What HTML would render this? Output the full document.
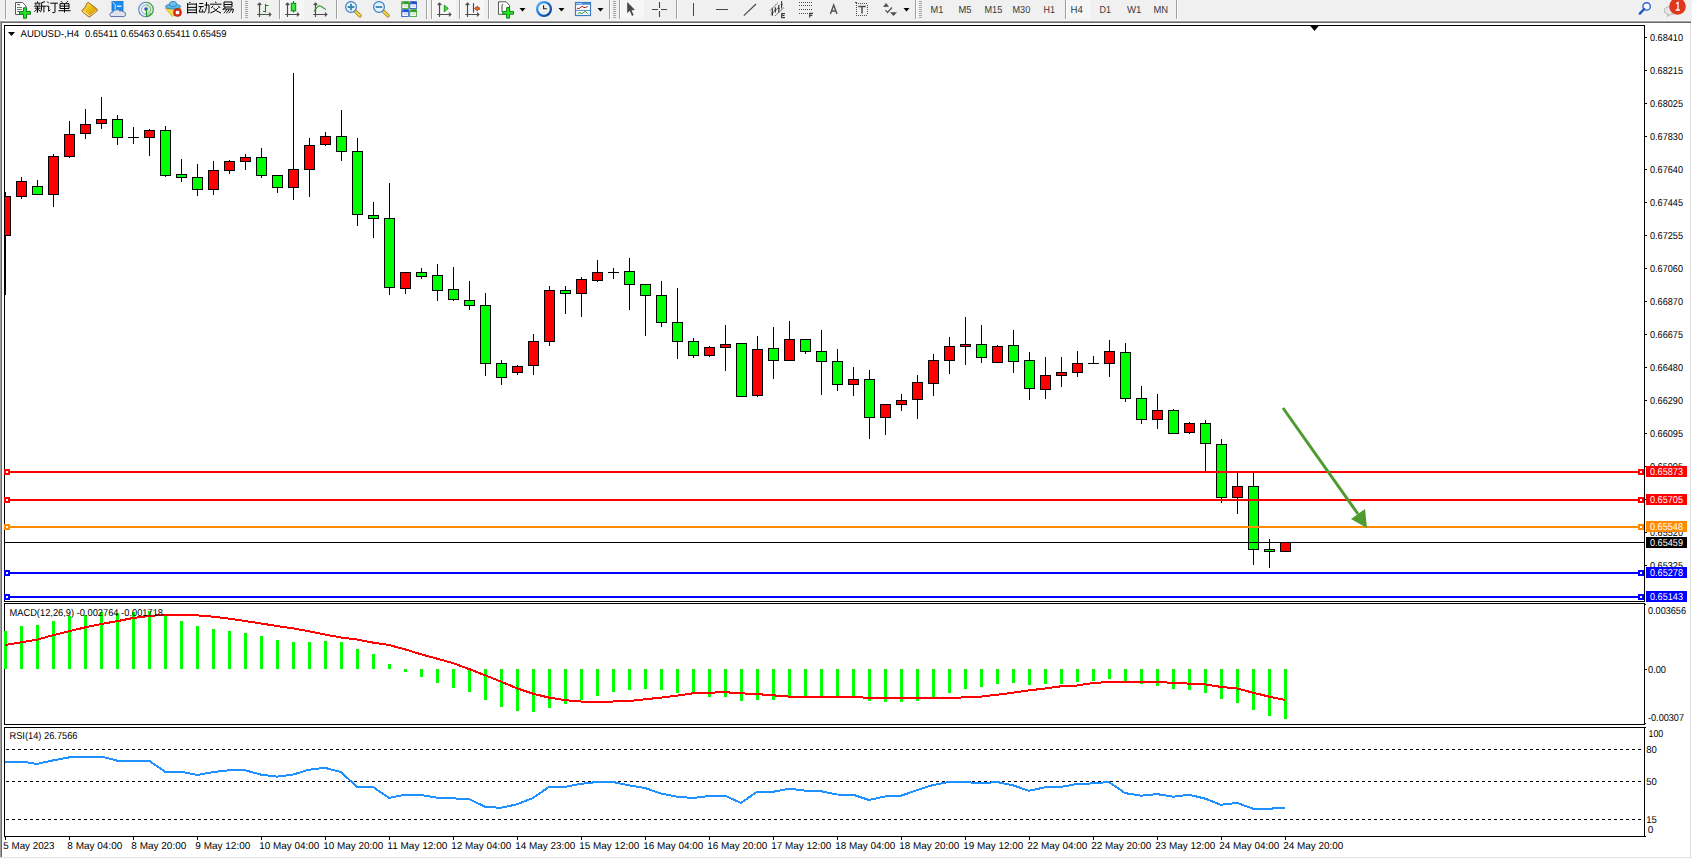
<!DOCTYPE html>
<html><head><meta charset="utf-8">
<style>
html,body{margin:0;padding:0;background:#fff;}
body{width:1692px;height:859px;overflow:hidden;position:relative;font-family:"Liberation Sans",sans-serif;}
svg{position:absolute;left:0;top:0;display:block;}
.t{font-family:"Liberation Sans",sans-serif;font-size:10px;fill:#000;text-rendering:geometricPrecision;}
</style></head><body>
<svg width="1692" height="859" viewBox="0 0 1692 859" shape-rendering="crispEdges">

<rect x="0" y="0" width="1692" height="859" fill="#ffffff"/>
<rect x="0" y="0" width="1692" height="21" fill="#f0f0f0"/>
<rect x="0" y="20" width="1692" height="1" fill="#f7f7f7"/>
<rect x="0" y="21" width="1691" height="1" fill="#a0a0a0"/>
<rect x="0" y="22" width="1691" height="1" fill="#696969"/>
<rect x="5" y="0" width="1" height="19" fill="#a0a0a0"/>
<rect x="6" y="0" width="1" height="19" fill="#ffffff"/>
<g shape-rendering="geometricPrecision">
<path d="M15.5,2.5 h7 l3.5,3.5 v8.5 h-10.5 z" fill="#fff" stroke="#5a5a5a" stroke-width="1"/>
<rect x="17" y="4" width="3" height="1.2" fill="#777"/>
<rect x="17" y="7" width="5" height="0.9" fill="#666"/><rect x="17" y="9" width="5" height="0.9" fill="#666"/><rect x="17" y="11" width="3" height="0.9" fill="#666"/>
<path d="M23.5,7.8 h3 v3.7 h4 v2.7 h-4 v4 h-3 v-4 h-4 v-2.7 h4 z" fill="#22e622" stroke="#14801a" stroke-width="1"/>
</g>
<path transform="translate(34,0.6)" d="M3.5,0.8 v1.4 M0.6,2.6 h6 M1.6,3.3 l0.6,1.6 M5.4,3.3 l-0.6,1.6 M0.2,5.6 h6.6 M0.8,7.6 h5.6 M3.5,5.6 v6.2 l-0.8,-0.3 M3,8.6 l-2.6,2.6 M4,8.8 l2.2,1.8 M11,1 l-3.5,1.2 M7.6,2.2 v4 q0,3.8 -1.1,5.4 M7.6,5.6 h4.6 M9.9,5.6 v6.2" fill="none" stroke="#000" stroke-width="1" shape-rendering="geometricPrecision"/>
<path transform="translate(46.5,0.6)" d="M0.8,1 l1.4,1.6 M0,5.6 h2.2 v5 l1.6,-1.4 M3.8,2.6 h7.6 M8.5,2.6 v8.8 q0,0.6 -0.8,0.6 h-1.8" fill="none" stroke="#000" stroke-width="1" shape-rendering="geometricPrecision"/>
<path transform="translate(58.5,0.4)" d="M2.6,0.8 l1.3,1.6 M9.2,0.8 l-1.3,1.6 M1.5,3.3 h9 v4.8 h-9 z M1.5,5.7 h9 M6,3.3 v8.8 M0,10.3 h12" fill="none" stroke="#000" stroke-width="1" shape-rendering="geometricPrecision"/>
<defs><linearGradient id="bk" x1="0" y1="0" x2="1" y2="1"><stop offset="0" stop-color="#ffe866"/><stop offset="0.55" stop-color="#e8b410"/><stop offset="1" stop-color="#c98a06"/></linearGradient></defs>
<g shape-rendering="geometricPrecision"><path d="M88.4,2.4 L96.9,9.1 Q97.6,9.9 97.2,10.8 L90.2,16.6 Q89.2,17.2 88.4,16.6 L82.4,11.8 Q81.7,11 82.3,10.2 Q85.4,7.4 86.4,4.6 Q87.2,2.4 88.4,2.4 z" fill="url(#bk)" stroke="#9a6410" stroke-width="1"/><path d="M83.2,11.2 L89.3,15.8" fill="none" stroke="#f6e2a0" stroke-width="1.1"/><path d="M90.3,15.6 L96.6,10.4" fill="none" stroke="#e8d8a8" stroke-width="1"/></g>
<g shape-rendering="geometricPrecision"><rect x="112" y="1.5" width="11" height="9.5" fill="#1a8cf0" stroke="#1673c8" stroke-width="0.8"/><path d="M112.5,2 l2.8,2.6 v7" stroke="#e6f3ff" stroke-width="0.9" fill="none"/><rect x="117" y="5.5" width="4.5" height="1.4" fill="#dff0ff"/><path d="M111,16.5 Q109.5,16 110,13.8 Q110.6,12 112.8,12.2 Q113.4,9.6 116.4,9.8 Q118.6,9 119.8,11 Q121.5,10.2 123.3,11.6 Q125.8,12.2 125.6,14.4 Q125.6,16.4 123.6,16.6 z" fill="#dde3ee" stroke="#4a64a0" stroke-width="0.9"/></g>
<g shape-rendering="geometricPrecision"><path d="M146,9.5 L146,16.8 A7.3,7.3 0 0 0 153.3,9.5 A7.3,7.3 0 0 0 146,2.2 z" fill="#d6ecd2" opacity="0.9"/><path d="M146,2.2 A7.3,7.3 0 0 0 146,16.8" fill="none" stroke="#3f6fd6" stroke-width="1.1" opacity="0.85"/><path d="M146,2.2 A7.3,7.3 0 0 1 146,16.8" fill="none" stroke="#3f8f4a" stroke-width="1.1"/><path d="M146,4.9 A4.6,4.6 0 0 0 146,14.1" fill="none" stroke="#6f93e0" stroke-width="1" opacity="0.8"/><path d="M146,4.9 A4.6,4.6 0 0 1 146,14.1" fill="none" stroke="#6fae72" stroke-width="1"/><circle cx="146" cy="9" r="1.8" fill="#2a56c6"/><path d="M146.5,9.5 V16.5 Q149.5,16.3 151,13.5" fill="none" stroke="#22a022" stroke-width="1.2"/></g>
<g shape-rendering="geometricPrecision"><path d="M165.5,8.5 L181,8.5 L172.5,16.6 z" fill="#f3d84a" stroke="#d0a020" stroke-width="0.8"/><ellipse cx="173" cy="6.6" rx="7.6" ry="2.4" fill="#5cb4ea" stroke="#2f86b8" stroke-width="0.9"/><ellipse cx="173" cy="4" rx="3.6" ry="2.6" fill="#6cc0f0" stroke="#2f86b8" stroke-width="0.9"/><circle cx="177.5" cy="12.5" r="4" fill="#e02a10" stroke="#a01a08" stroke-width="0.6"/><rect x="175.8" y="10.8" width="3.4" height="3.4" fill="#fff"/></g>
<path transform="translate(187,1)" d="M3,0.8 l-0.4,1.2 M0.6,2.2 v10.4 M9.4,2.2 v10.4 M0.6,3.1 h8.8 M0.6,6.4 h8.8 M0.6,9 h8.8 M0.6,11.6 h8.8" fill="none" stroke="#000" stroke-width="1" shape-rendering="geometricPrecision"/>
<path transform="translate(198.5,1)" d="M0.8,2.5 h4 M0,5.6 h5.2 M2.6,5.6 l-2,5.4 h4 M3.8,8.6 l0.8,2.6 M6,4 h4.5 v7.2 q0,1 -1.2,0.8 M8,1 v4.5 q-0.4,4.6 -2.6,6.6" fill="none" stroke="#000" stroke-width="1" shape-rendering="geometricPrecision"/>
<path transform="translate(210,1)" d="M5.5,0.6 l0.6,1.4 M0,3.2 h11.5 M3.2,4.8 l-2,2.2 M8.2,4.8 l2,2.2 M3.2,6.6 q2.2,3.6 7.8,5.4 M8.4,6.6 q-2.2,3.6 -8,5.4" fill="none" stroke="#000" stroke-width="1" shape-rendering="geometricPrecision"/>
<path transform="translate(222,1)" d="M2,1 h8 v5 h-8 z M2,3.5 h8 M0.8,8 h10.4 q0,3.6 -1,4 M3.2,6.2 l-2.4,2.8 M4.8,8.2 q-1,2.6 -3,3.8 M7.2,8.2 q-1,2.6 -3,3.8 M9.6,8.2 q-1,2.6 -3,3.8" fill="none" stroke="#000" stroke-width="1" shape-rendering="geometricPrecision"/>
<rect x="241" y="0" width="1" height="19" fill="#a0a0a0"/>
<rect x="242" y="0" width="1" height="19" fill="#ffffff"/>
<rect x="245" y="1" width="3" height="1" fill="#a8a8a8"/>
<rect x="245" y="3" width="3" height="1" fill="#a8a8a8"/>
<rect x="245" y="5" width="3" height="1" fill="#a8a8a8"/>
<rect x="245" y="7" width="3" height="1" fill="#a8a8a8"/>
<rect x="245" y="9" width="3" height="1" fill="#a8a8a8"/>
<rect x="245" y="11" width="3" height="1" fill="#a8a8a8"/>
<rect x="245" y="13" width="3" height="1" fill="#a8a8a8"/>
<rect x="245" y="15" width="3" height="1" fill="#a8a8a8"/>
<rect x="245" y="17" width="3" height="1" fill="#a8a8a8"/>
<g shape-rendering="geometricPrecision"><path d="M259.5,3.2 V17 M257.7,5 L259.5,3.2 L261.3,5 M257.2,14.5 H270.8 M269.0,12.7 L270.8,14.5 L269.0,16.3" fill="none" stroke="#4d4d4d" stroke-width="1.2"/></g>
<path shape-rendering="geometricPrecision" d="M265.5,4 V12.5 M265.5,5.5 H268.5 M263,11.5 H265.5" fill="none" stroke="#0e8a0e" stroke-width="1.1"/>
<rect x="279" y="0" width="1" height="19" fill="#a0a0a0"/>
<rect x="280" y="0" width="1" height="19" fill="#ffffff"/>
<rect x="281" y="0" width="23" height="19" fill="#f6f6f6"/>
<g shape-rendering="geometricPrecision"><path d="M287.5,3.2 V17 M285.7,5 L287.5,3.2 L289.3,5 M285.2,14.5 H298.8 M297.0,12.7 L298.8,14.5 L297.0,16.3" fill="none" stroke="#4d4d4d" stroke-width="1.2"/></g>
<g shape-rendering="geometricPrecision"><path d="M293.5,1 V12.5" stroke="#0a8a0a" stroke-width="1.1"/><rect x="291.3" y="3.3" width="4.4" height="7.6" fill="#3de63d" stroke="#0a8a0a" stroke-width="1"/></g>
<g shape-rendering="geometricPrecision"><path d="M315.5,3.2 V17 M313.7,5 L315.5,3.2 L317.3,5 M313.2,14.5 H326.8 M325.0,12.7 L326.8,14.5 L325.0,16.3" fill="none" stroke="#4d4d4d" stroke-width="1.2"/></g>
<path shape-rendering="geometricPrecision" d="M314,11.5 Q318,5.2 320.4,6 Q322,6.6 325.8,9.6" fill="none" stroke="#2a9a2a" stroke-width="1.1"/>
<rect x="336" y="0" width="1" height="19" fill="#a0a0a0"/>
<rect x="337" y="0" width="1" height="19" fill="#ffffff"/>
<g shape-rendering="geometricPrecision"><path d="M354.8,10.6 L360,15.8" stroke="#9a7010" stroke-width="3.4" stroke-linecap="round"/><path d="M354.8,10.6 L360,15.8" stroke="#f0d848" stroke-width="2" stroke-linecap="round"/><circle cx="351" cy="7" r="5.4" fill="#e2f3fd" stroke="#3a7cc0" stroke-width="1.2"/><path d="M347.7,7 H354.3 M351,3.7 V10.3" stroke="#3d86b0" stroke-width="1.8"/></g>
<g shape-rendering="geometricPrecision"><path d="M382.8,10.6 L388,15.8" stroke="#9a7010" stroke-width="3.4" stroke-linecap="round"/><path d="M382.8,10.6 L388,15.8" stroke="#f0d848" stroke-width="2" stroke-linecap="round"/><circle cx="379" cy="7" r="5.4" fill="#e2f3fd" stroke="#3a7cc0" stroke-width="1.2"/><path d="M375.7,7 H382.3" stroke="#3d86b0" stroke-width="1.8"/></g>
<g shape-rendering="geometricPrecision">
<rect x="401.3" y="1.3" width="7.6" height="7.6" rx="0.6" fill="#2a9a1e"/><path d="M402.6,8.2 V4.4 H407.8 V8.2" fill="#fff" stroke="#fff" stroke-width="0.6"/><rect x="403.6" y="5.6" width="3.4" height="0.9" fill="#2a9a1e" opacity="0.45"/><rect x="402.4" y="2.2" width="1" height="1" fill="#fff" opacity="0.7"/>
<rect x="409.3" y="1.3" width="7.6" height="7.6" rx="0.6" fill="#1a48c8"/><path d="M410.6,8.2 V4.4 H415.8 V8.2" fill="#fff" stroke="#fff" stroke-width="0.6"/><rect x="411.6" y="5.6" width="3.4" height="0.9" fill="#1a48c8" opacity="0.45"/><rect x="410.4" y="2.2" width="1" height="1" fill="#fff" opacity="0.7"/>
<rect x="401.3" y="9.3" width="7.6" height="7.6" rx="0.6" fill="#1a48c8"/><path d="M402.6,16.2 V12.4 H407.8 V16.2" fill="#fff" stroke="#fff" stroke-width="0.6"/><rect x="403.6" y="13.6" width="3.4" height="0.9" fill="#1a48c8" opacity="0.45"/><rect x="402.4" y="10.2" width="1" height="1" fill="#fff" opacity="0.7"/>
<rect x="409.3" y="9.3" width="7.6" height="7.6" rx="0.6" fill="#2a9a1e"/><path d="M410.6,16.2 V12.4 H415.8 V16.2" fill="#fff" stroke="#fff" stroke-width="0.6"/><rect x="411.6" y="13.6" width="3.4" height="0.9" fill="#2a9a1e" opacity="0.45"/><rect x="410.4" y="10.2" width="1" height="1" fill="#fff" opacity="0.7"/>
</g>
<rect x="426" y="0" width="1" height="19" fill="#a0a0a0"/>
<rect x="427" y="0" width="1" height="19" fill="#ffffff"/>
<rect x="431" y="0" width="1" height="19" fill="#a0a0a0"/>
<rect x="432" y="0" width="1" height="19" fill="#ffffff"/>
<rect x="433" y="0" width="23" height="19" fill="#f6f6f6"/>
<g shape-rendering="geometricPrecision"><path d="M439.5,3.2 V17 M437.7,5 L439.5,3.2 L441.3,5 M437.2,14.5 H450.8 M449.0,12.7 L450.8,14.5 L449.0,16.3" fill="none" stroke="#4d4d4d" stroke-width="1.2"/></g>
<polygon shape-rendering="geometricPrecision" points="444.3,5.2 448.3,8.5 444.3,11.8" fill="#44dd44" stroke="#0c8a0c" stroke-width="0.9"/>
<rect x="459" y="0" width="1" height="19" fill="#a0a0a0"/>
<rect x="460" y="0" width="1" height="19" fill="#ffffff"/>
<rect x="461" y="0" width="23" height="19" fill="#f6f6f6"/>
<g shape-rendering="geometricPrecision"><path d="M467.5,3.2 V17 M465.7,5 L467.5,3.2 L469.3,5 M465.2,14.5 H478.8 M477.0,12.7 L478.8,14.5 L477.0,16.3" fill="none" stroke="#4d4d4d" stroke-width="1.2"/></g>
<g shape-rendering="geometricPrecision"><path d="M473.5,3.2 V12.6" stroke="#10608a" stroke-width="1.2"/><path d="M474.4,8.5 L477.5,6 V7.6 H479.6 V9.4 H477.5 V11 z" fill="#ff6a10" stroke="#8a2a08" stroke-width="0.6"/></g>
<rect x="488" y="0" width="1" height="19" fill="#a0a0a0"/>
<rect x="489" y="0" width="1" height="19" fill="#ffffff"/>
<g shape-rendering="geometricPrecision"><path d="M498.5,1.8 h7.5 l3.5,3.5 v9 h-11 z" fill="#fff" stroke="#5a5a5a" stroke-width="1"/><path d="M503.2,4.2 q-1.2,0 -1.2,1.6 v6.2" fill="none" stroke="#333" stroke-width="0.9"/><path d="M506.6,7.6 h3 v3.8 h3.9 v2.8 h-3.9 v3.9 h-3 v-3.9 h-3.9 v-2.8 h3.9 z" fill="#22e622" stroke="#14801a" stroke-width="1"/></g>
<polygon shape-rendering="geometricPrecision" points="519.5,8 525.5,8 522.5,11.5" fill="#000"/>
<defs><linearGradient id="ck" x1="0" y1="0" x2="1" y2="1"><stop offset="0" stop-color="#5ab8ff"/><stop offset="0.5" stop-color="#1e6fd0"/><stop offset="1" stop-color="#073a88"/></linearGradient></defs>
<g shape-rendering="geometricPrecision"><circle cx="544" cy="9" r="6.9" fill="#f4f4f4" stroke="url(#ck)" stroke-width="2.3"/><path d="M543.6,5.2 V8.8 H546.8" fill="none" stroke="#1a1a1a" stroke-width="1.1"/><circle cx="540.2" cy="9" r="0.45" fill="#999"/><circle cx="547.8" cy="9" r="0.45" fill="#999"/><circle cx="544" cy="12.6" r="0.5" fill="#6aa0e0"/><circle cx="541.4" cy="11.8" r="0.4" fill="#aaa"/><circle cx="546.6" cy="11.8" r="0.4" fill="#aaa"/><circle cx="546.6" cy="6.2" r="0.4" fill="#aaa"/><circle cx="541.4" cy="6.2" r="0.4" fill="#aaa"/></g>
<polygon shape-rendering="geometricPrecision" points="558.5,8 564.5,8 561.5,11.5" fill="#000"/>
<g shape-rendering="geometricPrecision"><rect x="575.5" y="2.5" width="15" height="13" fill="#fff" stroke="#3a7cc0" stroke-width="1.2"/><rect x="575.5" y="2.5" width="15" height="2.2" fill="#3f86cc"/><rect x="576.2" y="3" width="6" height="0.8" fill="#bfe0ff"/><path d="M575.5,10.4 H590.5" stroke="#3a7cc0" stroke-width="0.9"/><path d="M577.2,8.4 L579.2,8.4 L580.8,7.2 L582.3,6.3 L584,7.5 L585.5,7.5 L587.8,6.5" fill="none" stroke="#a01a10" stroke-width="1"/><path d="M578,13.5 L580,12.7 L581.6,13.5 L583.4,12.6 L585.4,11.3 L587.6,13.6" fill="none" stroke="#18901a" stroke-width="1"/></g>
<polygon shape-rendering="geometricPrecision" points="597.5,8 603.5,8 600.5,11.5" fill="#000"/>
<rect x="609" y="0" width="1" height="19" fill="#a0a0a0"/>
<rect x="610" y="0" width="1" height="19" fill="#ffffff"/>
<rect x="613" y="1" width="3" height="1" fill="#a8a8a8"/>
<rect x="613" y="3" width="3" height="1" fill="#a8a8a8"/>
<rect x="613" y="5" width="3" height="1" fill="#a8a8a8"/>
<rect x="613" y="7" width="3" height="1" fill="#a8a8a8"/>
<rect x="613" y="9" width="3" height="1" fill="#a8a8a8"/>
<rect x="613" y="11" width="3" height="1" fill="#a8a8a8"/>
<rect x="613" y="13" width="3" height="1" fill="#a8a8a8"/>
<rect x="613" y="15" width="3" height="1" fill="#a8a8a8"/>
<rect x="613" y="17" width="3" height="1" fill="#a8a8a8"/>
<rect x="619" y="0" width="1" height="19" fill="#a0a0a0"/>
<rect x="620" y="0" width="1" height="19" fill="#ffffff"/>
<rect x="621" y="0" width="23" height="19" fill="#f6f6f6"/>
<polygon shape-rendering="geometricPrecision" points="627.2,2 627.2,13.2 629.8,10.8 632,15.9 633.6,15.1 631.5,10.2 635,10" fill="#474747"/>
<path shape-rendering="geometricPrecision" d="M652,9.5 H658 M661,9.5 H667 M659.5,2 V8 M659.5,11 V17" stroke="#474747" stroke-width="1.1"/>
<rect x="676" y="0" width="1" height="19" fill="#a0a0a0"/>
<rect x="677" y="0" width="1" height="19" fill="#ffffff"/>
<rect x="693" y="3" width="1.2" height="13" fill="#474747"/>
<rect x="716" y="8.6" width="12" height="1.2" fill="#474747"/>
<path shape-rendering="geometricPrecision" d="M743.8,15.6 L756,4" stroke="#474747" stroke-width="1.1"/>
<g shape-rendering="geometricPrecision"><path d="M770,10.6 L777.8,2.8 M770.8,14.6 L779.5,6.5 M775.2,15.8 L784,7.6" fill="none" stroke="#505050" stroke-width="1" stroke-dasharray="1.5,0.5"/><path d="M772.4,8.2 V15.8 M775.4,7.2 V12.6 M778.8,5 V12.6 M781.6,1.2 V8.4" fill="none" stroke="#3e3e3e" stroke-width="1.2"/><path d="M771.3,12.5 h2.2 M774.3,10 h2.2 M777.7,8.6 h2.2 M780.5,4.6 h2.2" fill="none" stroke="#3e3e3e" stroke-width="0.8"/><path d="M785,13.6 h-3.3 v4 h3.3 M781.7,15.5 h2.8" fill="none" stroke="#3a3a3a" stroke-width="1.2"/></g>
<rect x="799" y="2" width="1" height="1" fill="#4a4a4a"/>
<rect x="801" y="2" width="1" height="1" fill="#4a4a4a"/>
<rect x="803" y="2" width="1" height="1" fill="#4a4a4a"/>
<rect x="805" y="2" width="1" height="1" fill="#4a4a4a"/>
<rect x="807" y="2" width="1" height="1" fill="#4a4a4a"/>
<rect x="809" y="2" width="1" height="1" fill="#4a4a4a"/>
<rect x="811" y="2" width="1" height="1" fill="#4a4a4a"/>
<rect x="799" y="5" width="1" height="1" fill="#4a4a4a"/>
<rect x="801" y="5" width="1" height="1" fill="#4a4a4a"/>
<rect x="803" y="5" width="1" height="1" fill="#4a4a4a"/>
<rect x="805" y="5" width="1" height="1" fill="#4a4a4a"/>
<rect x="807" y="5" width="1" height="1" fill="#4a4a4a"/>
<rect x="809" y="5" width="1" height="1" fill="#4a4a4a"/>
<rect x="811" y="5" width="1" height="1" fill="#4a4a4a"/>
<rect x="799" y="9" width="1" height="1" fill="#4a4a4a"/>
<rect x="801" y="9" width="1" height="1" fill="#4a4a4a"/>
<rect x="803" y="9" width="1" height="1" fill="#4a4a4a"/>
<rect x="805" y="9" width="1" height="1" fill="#4a4a4a"/>
<rect x="807" y="9" width="1" height="1" fill="#4a4a4a"/>
<rect x="809" y="9" width="1" height="1" fill="#4a4a4a"/>
<rect x="811" y="9" width="1" height="1" fill="#4a4a4a"/>
<rect x="799" y="13" width="1" height="1" fill="#4a4a4a"/>
<rect x="801" y="13" width="1" height="1" fill="#4a4a4a"/>
<rect x="803" y="13" width="1" height="1" fill="#4a4a4a"/>
<rect x="805" y="13" width="1" height="1" fill="#4a4a4a"/>
<rect x="807" y="13" width="1" height="1" fill="#4a4a4a"/>
<path shape-rendering="geometricPrecision" d="M813,13.3 h-3.3 v4.2 M809.7,15.3 h2.6" fill="none" stroke="#3a3a3a" stroke-width="1.2"/>
<path shape-rendering="geometricPrecision" d="M830.4,14 L833.7,5 L837,14 M831.6,11 H835.8" fill="none" stroke="#505050" stroke-width="1.4"/>
<rect x="856" y="3" width="1" height="1" fill="#4a4a4a"/><rect x="856" y="15" width="1" height="1" fill="#4a4a4a"/>
<rect x="858" y="3" width="1" height="1" fill="#4a4a4a"/><rect x="858" y="15" width="1" height="1" fill="#4a4a4a"/>
<rect x="860" y="3" width="1" height="1" fill="#4a4a4a"/><rect x="860" y="15" width="1" height="1" fill="#4a4a4a"/>
<rect x="862" y="3" width="1" height="1" fill="#4a4a4a"/><rect x="862" y="15" width="1" height="1" fill="#4a4a4a"/>
<rect x="864" y="3" width="1" height="1" fill="#4a4a4a"/><rect x="864" y="15" width="1" height="1" fill="#4a4a4a"/>
<rect x="866" y="3" width="1" height="1" fill="#4a4a4a"/><rect x="866" y="15" width="1" height="1" fill="#4a4a4a"/>
<rect x="856" y="5" width="1" height="1" fill="#4a4a4a"/><rect x="867" y="5" width="1" height="1" fill="#4a4a4a"/>
<rect x="856" y="7" width="1" height="1" fill="#4a4a4a"/><rect x="867" y="7" width="1" height="1" fill="#4a4a4a"/>
<rect x="856" y="9" width="1" height="1" fill="#4a4a4a"/><rect x="867" y="9" width="1" height="1" fill="#4a4a4a"/>
<rect x="856" y="11" width="1" height="1" fill="#4a4a4a"/><rect x="867" y="11" width="1" height="1" fill="#4a4a4a"/>
<rect x="856" y="13" width="1" height="1" fill="#4a4a4a"/><rect x="867" y="13" width="1" height="1" fill="#4a4a4a"/>
<rect x="855" y="2" width="2" height="1" fill="#4a4a4a"/>
<path shape-rendering="geometricPrecision" d="M858.3,6.5 H865.8 M862,6.5 V13.6" stroke="#505050" stroke-width="1.5"/>
<g shape-rendering="geometricPrecision"><polygon points="883,7 886,3 889,6.8" fill="#505050"/><path d="M885.5,10 L887.5,12.5 L892,7.5" fill="none" stroke="#505050" stroke-width="1.2"/><polygon points="890,12.2 897,12.2 893.5,16" fill="#505050"/></g>
<polygon shape-rendering="geometricPrecision" points="903.5,8 909.5,8 906.5,11.5" fill="#000"/>
<rect x="915" y="0" width="1" height="19" fill="#a0a0a0"/>
<rect x="916" y="0" width="1" height="19" fill="#ffffff"/>
<rect x="919" y="1" width="3" height="1" fill="#a8a8a8"/>
<rect x="919" y="3" width="3" height="1" fill="#a8a8a8"/>
<rect x="919" y="5" width="3" height="1" fill="#a8a8a8"/>
<rect x="919" y="7" width="3" height="1" fill="#a8a8a8"/>
<rect x="919" y="9" width="3" height="1" fill="#a8a8a8"/>
<rect x="919" y="11" width="3" height="1" fill="#a8a8a8"/>
<rect x="919" y="13" width="3" height="1" fill="#a8a8a8"/>
<rect x="919" y="15" width="3" height="1" fill="#a8a8a8"/>
<rect x="919" y="17" width="3" height="1" fill="#a8a8a8"/>
<rect x="1066" y="0" width="24" height="19" fill="#f6f6f6"/>
<text x="930.5" y="13" textLength="12.8" lengthAdjust="spacingAndGlyphs" style="font-family:&quot;Liberation Sans&quot;,sans-serif;font-size:10.2px;fill:#3a3a3a;text-rendering:geometricPrecision">M1</text>
<text x="958.5" y="13" textLength="13" lengthAdjust="spacingAndGlyphs" style="font-family:&quot;Liberation Sans&quot;,sans-serif;font-size:10.2px;fill:#3a3a3a;text-rendering:geometricPrecision">M5</text>
<text x="984.5" y="13" textLength="17.8" lengthAdjust="spacingAndGlyphs" style="font-family:&quot;Liberation Sans&quot;,sans-serif;font-size:10.2px;fill:#3a3a3a;text-rendering:geometricPrecision">M15</text>
<text x="1012.5" y="13" textLength="17.8" lengthAdjust="spacingAndGlyphs" style="font-family:&quot;Liberation Sans&quot;,sans-serif;font-size:10.2px;fill:#3a3a3a;text-rendering:geometricPrecision">M30</text>
<text x="1043.5" y="13" textLength="11.4" lengthAdjust="spacingAndGlyphs" style="font-family:&quot;Liberation Sans&quot;,sans-serif;font-size:10.2px;fill:#3a3a3a;text-rendering:geometricPrecision">H1</text>
<text x="1070.5" y="13" textLength="12.3" lengthAdjust="spacingAndGlyphs" style="font-family:&quot;Liberation Sans&quot;,sans-serif;font-size:10.2px;fill:#3a3a3a;text-rendering:geometricPrecision">H4</text>
<text x="1099.5" y="13" textLength="11.5" lengthAdjust="spacingAndGlyphs" style="font-family:&quot;Liberation Sans&quot;,sans-serif;font-size:10.2px;fill:#3a3a3a;text-rendering:geometricPrecision">D1</text>
<text x="1127" y="13" textLength="14.5" lengthAdjust="spacingAndGlyphs" style="font-family:&quot;Liberation Sans&quot;,sans-serif;font-size:10.2px;fill:#3a3a3a;text-rendering:geometricPrecision">W1</text>
<text x="1153.5" y="13" textLength="14.6" lengthAdjust="spacingAndGlyphs" style="font-family:&quot;Liberation Sans&quot;,sans-serif;font-size:10.2px;fill:#3a3a3a;text-rendering:geometricPrecision">MN</text>
<rect x="1065" y="0" width="1" height="19" fill="#a0a0a0"/>
<rect x="1066" y="0" width="1" height="19" fill="#ffffff"/>
<rect x="1176" y="0" width="1" height="19" fill="#a0a0a0"/>
<rect x="1177" y="0" width="1" height="19" fill="#ffffff"/>
<g shape-rendering="geometricPrecision"><circle cx="1646.6" cy="6.4" r="3.7" fill="#fdfdff" stroke="#2a62d2" stroke-width="1.4"/><path d="M1644.2,9 L1639.8,13.6" stroke="#2556c0" stroke-width="2.4" stroke-linecap="round"/></g>
<g shape-rendering="geometricPrecision"><path d="M1667,16.5 l1.2,-2.2 q-4,-0.8 -4,-3.6 q0,-4 6.5,-4 q6.5,0 6.5,4 q0,3.6 -6.2,3.7 z" fill="#e6e7ee" stroke="#a8a8a8" stroke-width="0.8"/><circle cx="1677.5" cy="6.4" r="8.3" fill="#e0381c"/><path d="M1676.2,3.6 l1.8,-1.2 v7.6 M1675.6,10 h4.2" fill="none" stroke="#fff" stroke-width="1.3"/></g>
<rect x="0" y="21" width="1" height="836" fill="#a0a0a0"/>
<rect x="1" y="22" width="1" height="835" fill="#696969"/>
<rect x="1690" y="23" width="1" height="835" fill="#e0e0e0"/>
<rect x="1691" y="21" width="1" height="838" fill="#ffffff"/>
<rect x="0" y="857" width="1692" height="1" fill="#e3e3e3"/>
<rect x="0" y="858" width="1692" height="1" fill="#fafafa"/>
<rect x="4" y="603" width="1641" height="1" fill="#000"/><rect x="4" y="724" width="1641" height="1" fill="#000"/><rect x="4" y="603" width="1" height="122" fill="#000"/><rect x="1644" y="603" width="1" height="122" fill="#000"/>
<rect x="4" y="727" width="1641" height="1" fill="#000"/><rect x="4" y="836" width="1641" height="1" fill="#000"/><rect x="4" y="727" width="1" height="110" fill="#000"/><rect x="1644" y="727" width="1" height="110" fill="#000"/>
<defs><clipPath id="cc"><rect x="4" y="25" width="1641" height="577"/></clipPath></defs>
<g clip-path="url(#cc)"><rect x="5" y="192" width="1" height="103" fill="#000"/>
<rect x="0" y="196" width="11" height="40" fill="#000"/>
<rect x="1" y="197" width="9" height="38" fill="#ff0000"/>
<rect x="21" y="177" width="1" height="22" fill="#000"/>
<rect x="16" y="181" width="11" height="16" fill="#000"/>
<rect x="17" y="182" width="9" height="14" fill="#ff0000"/>
<rect x="37" y="180" width="1" height="15" fill="#000"/>
<rect x="32" y="186" width="11" height="9" fill="#000"/>
<rect x="33" y="187" width="9" height="7" fill="#00ff00"/>
<rect x="53" y="154" width="1" height="53" fill="#000"/>
<rect x="48" y="156" width="11" height="39" fill="#000"/>
<rect x="49" y="157" width="9" height="37" fill="#ff0000"/>
<rect x="69" y="121" width="1" height="37" fill="#000"/>
<rect x="64" y="134" width="11" height="23" fill="#000"/>
<rect x="65" y="135" width="9" height="21" fill="#ff0000"/>
<rect x="85" y="109" width="1" height="30" fill="#000"/>
<rect x="80" y="124" width="11" height="10" fill="#000"/>
<rect x="81" y="125" width="9" height="8" fill="#ff0000"/>
<rect x="101" y="97" width="1" height="32" fill="#000"/>
<rect x="96" y="119" width="11" height="5" fill="#000"/>
<rect x="97" y="120" width="9" height="3" fill="#ff0000"/>
<rect x="117" y="115" width="1" height="30" fill="#000"/>
<rect x="112" y="119" width="11" height="19" fill="#000"/>
<rect x="113" y="120" width="9" height="17" fill="#00ff00"/>
<rect x="133" y="127" width="1" height="17" fill="#000"/>
<rect x="128" y="137" width="11" height="1" fill="#000"/>
<rect x="149" y="129" width="1" height="27" fill="#000"/>
<rect x="144" y="130" width="11" height="8" fill="#000"/>
<rect x="145" y="131" width="9" height="6" fill="#ff0000"/>
<rect x="165" y="126" width="1" height="51" fill="#000"/>
<rect x="160" y="130" width="11" height="46" fill="#000"/>
<rect x="161" y="131" width="9" height="44" fill="#00ff00"/>
<rect x="181" y="159" width="1" height="23" fill="#000"/>
<rect x="176" y="174" width="11" height="4" fill="#000"/>
<rect x="177" y="175" width="9" height="2" fill="#00ff00"/>
<rect x="197" y="164" width="1" height="32" fill="#000"/>
<rect x="192" y="177" width="11" height="13" fill="#000"/>
<rect x="193" y="178" width="9" height="11" fill="#00ff00"/>
<rect x="213" y="161" width="1" height="34" fill="#000"/>
<rect x="208" y="170" width="11" height="20" fill="#000"/>
<rect x="209" y="171" width="9" height="18" fill="#ff0000"/>
<rect x="229" y="160" width="1" height="14" fill="#000"/>
<rect x="224" y="161" width="11" height="10" fill="#000"/>
<rect x="225" y="162" width="9" height="8" fill="#ff0000"/>
<rect x="245" y="154" width="1" height="16" fill="#000"/>
<rect x="240" y="157" width="11" height="5" fill="#000"/>
<rect x="241" y="158" width="9" height="3" fill="#ff0000"/>
<rect x="261" y="148" width="1" height="30" fill="#000"/>
<rect x="256" y="157" width="11" height="19" fill="#000"/>
<rect x="257" y="158" width="9" height="17" fill="#00ff00"/>
<rect x="277" y="175" width="1" height="18" fill="#000"/>
<rect x="272" y="175" width="11" height="13" fill="#000"/>
<rect x="273" y="176" width="9" height="11" fill="#00ff00"/>
<rect x="293" y="73" width="1" height="127" fill="#000"/>
<rect x="288" y="169" width="11" height="19" fill="#000"/>
<rect x="289" y="170" width="9" height="17" fill="#ff0000"/>
<rect x="309" y="138" width="1" height="59" fill="#000"/>
<rect x="304" y="145" width="11" height="25" fill="#000"/>
<rect x="305" y="146" width="9" height="23" fill="#ff0000"/>
<rect x="325" y="132" width="1" height="14" fill="#000"/>
<rect x="320" y="136" width="11" height="9" fill="#000"/>
<rect x="321" y="137" width="9" height="7" fill="#ff0000"/>
<rect x="341" y="110" width="1" height="51" fill="#000"/>
<rect x="336" y="136" width="11" height="16" fill="#000"/>
<rect x="337" y="137" width="9" height="14" fill="#00ff00"/>
<rect x="357" y="138" width="1" height="88" fill="#000"/>
<rect x="352" y="151" width="11" height="64" fill="#000"/>
<rect x="353" y="152" width="9" height="62" fill="#00ff00"/>
<rect x="373" y="202" width="1" height="36" fill="#000"/>
<rect x="368" y="215" width="11" height="4" fill="#000"/>
<rect x="369" y="216" width="9" height="2" fill="#00ff00"/>
<rect x="389" y="183" width="1" height="112" fill="#000"/>
<rect x="384" y="218" width="11" height="70" fill="#000"/>
<rect x="385" y="219" width="9" height="68" fill="#00ff00"/>
<rect x="405" y="272" width="1" height="22" fill="#000"/>
<rect x="400" y="272" width="11" height="17" fill="#000"/>
<rect x="401" y="273" width="9" height="15" fill="#ff0000"/>
<rect x="421" y="268" width="1" height="11" fill="#000"/>
<rect x="416" y="272" width="11" height="5" fill="#000"/>
<rect x="417" y="273" width="9" height="3" fill="#00ff00"/>
<rect x="437" y="264" width="1" height="37" fill="#000"/>
<rect x="432" y="275" width="11" height="16" fill="#000"/>
<rect x="433" y="276" width="9" height="14" fill="#00ff00"/>
<rect x="453" y="267" width="1" height="34" fill="#000"/>
<rect x="448" y="289" width="11" height="11" fill="#000"/>
<rect x="449" y="290" width="9" height="9" fill="#00ff00"/>
<rect x="469" y="281" width="1" height="29" fill="#000"/>
<rect x="464" y="300" width="11" height="6" fill="#000"/>
<rect x="465" y="301" width="9" height="4" fill="#00ff00"/>
<rect x="485" y="293" width="1" height="83" fill="#000"/>
<rect x="480" y="305" width="11" height="59" fill="#000"/>
<rect x="481" y="306" width="9" height="57" fill="#00ff00"/>
<rect x="501" y="360" width="1" height="25" fill="#000"/>
<rect x="496" y="363" width="11" height="15" fill="#000"/>
<rect x="497" y="364" width="9" height="13" fill="#00ff00"/>
<rect x="517" y="365" width="1" height="10" fill="#000"/>
<rect x="512" y="366" width="11" height="7" fill="#000"/>
<rect x="513" y="367" width="9" height="5" fill="#ff0000"/>
<rect x="533" y="334" width="1" height="41" fill="#000"/>
<rect x="528" y="341" width="11" height="25" fill="#000"/>
<rect x="529" y="342" width="9" height="23" fill="#ff0000"/>
<rect x="549" y="286" width="1" height="60" fill="#000"/>
<rect x="544" y="290" width="11" height="52" fill="#000"/>
<rect x="545" y="291" width="9" height="50" fill="#ff0000"/>
<rect x="565" y="286" width="1" height="28" fill="#000"/>
<rect x="560" y="290" width="11" height="4" fill="#000"/>
<rect x="561" y="291" width="9" height="2" fill="#00ff00"/>
<rect x="581" y="277" width="1" height="40" fill="#000"/>
<rect x="576" y="279" width="11" height="15" fill="#000"/>
<rect x="577" y="280" width="9" height="13" fill="#ff0000"/>
<rect x="597" y="260" width="1" height="22" fill="#000"/>
<rect x="592" y="272" width="11" height="9" fill="#000"/>
<rect x="593" y="273" width="9" height="7" fill="#ff0000"/>
<rect x="613" y="268" width="1" height="11" fill="#000"/>
<rect x="608" y="272" width="11" height="1" fill="#000"/>
<rect x="629" y="258" width="1" height="52" fill="#000"/>
<rect x="624" y="271" width="11" height="14" fill="#000"/>
<rect x="625" y="272" width="9" height="12" fill="#00ff00"/>
<rect x="645" y="284" width="1" height="52" fill="#000"/>
<rect x="640" y="284" width="11" height="12" fill="#000"/>
<rect x="641" y="285" width="9" height="10" fill="#00ff00"/>
<rect x="661" y="281" width="1" height="46" fill="#000"/>
<rect x="656" y="295" width="11" height="28" fill="#000"/>
<rect x="657" y="296" width="9" height="26" fill="#00ff00"/>
<rect x="677" y="288" width="1" height="71" fill="#000"/>
<rect x="672" y="322" width="11" height="20" fill="#000"/>
<rect x="673" y="323" width="9" height="18" fill="#00ff00"/>
<rect x="693" y="338" width="1" height="20" fill="#000"/>
<rect x="688" y="341" width="11" height="15" fill="#000"/>
<rect x="689" y="342" width="9" height="13" fill="#00ff00"/>
<rect x="709" y="346" width="1" height="11" fill="#000"/>
<rect x="704" y="347" width="11" height="9" fill="#000"/>
<rect x="705" y="348" width="9" height="7" fill="#ff0000"/>
<rect x="725" y="325" width="1" height="46" fill="#000"/>
<rect x="720" y="344" width="11" height="4" fill="#000"/>
<rect x="721" y="345" width="9" height="2" fill="#ff0000"/>
<rect x="741" y="343" width="1" height="54" fill="#000"/>
<rect x="736" y="343" width="11" height="54" fill="#000"/>
<rect x="737" y="344" width="9" height="52" fill="#00ff00"/>
<rect x="757" y="336" width="1" height="61" fill="#000"/>
<rect x="752" y="349" width="11" height="47" fill="#000"/>
<rect x="753" y="350" width="9" height="45" fill="#ff0000"/>
<rect x="773" y="327" width="1" height="52" fill="#000"/>
<rect x="768" y="348" width="11" height="13" fill="#000"/>
<rect x="769" y="349" width="9" height="11" fill="#00ff00"/>
<rect x="789" y="321" width="1" height="40" fill="#000"/>
<rect x="784" y="339" width="11" height="22" fill="#000"/>
<rect x="785" y="340" width="9" height="20" fill="#ff0000"/>
<rect x="805" y="339" width="1" height="15" fill="#000"/>
<rect x="800" y="339" width="11" height="13" fill="#000"/>
<rect x="801" y="340" width="9" height="11" fill="#00ff00"/>
<rect x="821" y="330" width="1" height="65" fill="#000"/>
<rect x="816" y="351" width="11" height="11" fill="#000"/>
<rect x="817" y="352" width="9" height="9" fill="#00ff00"/>
<rect x="837" y="349" width="1" height="42" fill="#000"/>
<rect x="832" y="361" width="11" height="24" fill="#000"/>
<rect x="833" y="362" width="9" height="22" fill="#00ff00"/>
<rect x="853" y="367" width="1" height="29" fill="#000"/>
<rect x="848" y="379" width="11" height="6" fill="#000"/>
<rect x="849" y="380" width="9" height="4" fill="#ff0000"/>
<rect x="869" y="370" width="1" height="69" fill="#000"/>
<rect x="864" y="379" width="11" height="39" fill="#000"/>
<rect x="865" y="380" width="9" height="37" fill="#00ff00"/>
<rect x="885" y="404" width="1" height="31" fill="#000"/>
<rect x="880" y="404" width="11" height="14" fill="#000"/>
<rect x="881" y="405" width="9" height="12" fill="#ff0000"/>
<rect x="901" y="394" width="1" height="17" fill="#000"/>
<rect x="896" y="400" width="11" height="5" fill="#000"/>
<rect x="897" y="401" width="9" height="3" fill="#ff0000"/>
<rect x="917" y="375" width="1" height="44" fill="#000"/>
<rect x="912" y="382" width="11" height="18" fill="#000"/>
<rect x="913" y="383" width="9" height="16" fill="#ff0000"/>
<rect x="933" y="354" width="1" height="42" fill="#000"/>
<rect x="928" y="360" width="11" height="24" fill="#000"/>
<rect x="929" y="361" width="9" height="22" fill="#ff0000"/>
<rect x="949" y="337" width="1" height="37" fill="#000"/>
<rect x="944" y="346" width="11" height="15" fill="#000"/>
<rect x="945" y="347" width="9" height="13" fill="#ff0000"/>
<rect x="965" y="317" width="1" height="48" fill="#000"/>
<rect x="960" y="344" width="11" height="3" fill="#000"/>
<rect x="961" y="345" width="9" height="1" fill="#ff0000"/>
<rect x="981" y="325" width="1" height="38" fill="#000"/>
<rect x="976" y="344" width="11" height="14" fill="#000"/>
<rect x="977" y="345" width="9" height="12" fill="#00ff00"/>
<rect x="997" y="345" width="1" height="18" fill="#000"/>
<rect x="992" y="346" width="11" height="17" fill="#000"/>
<rect x="993" y="347" width="9" height="15" fill="#ff0000"/>
<rect x="1013" y="330" width="1" height="43" fill="#000"/>
<rect x="1008" y="345" width="11" height="17" fill="#000"/>
<rect x="1009" y="346" width="9" height="15" fill="#00ff00"/>
<rect x="1029" y="352" width="1" height="48" fill="#000"/>
<rect x="1024" y="360" width="11" height="29" fill="#000"/>
<rect x="1025" y="361" width="9" height="27" fill="#00ff00"/>
<rect x="1045" y="357" width="1" height="42" fill="#000"/>
<rect x="1040" y="375" width="11" height="15" fill="#000"/>
<rect x="1041" y="376" width="9" height="13" fill="#ff0000"/>
<rect x="1061" y="357" width="1" height="30" fill="#000"/>
<rect x="1056" y="372" width="11" height="4" fill="#000"/>
<rect x="1057" y="373" width="9" height="2" fill="#ff0000"/>
<rect x="1077" y="351" width="1" height="26" fill="#000"/>
<rect x="1072" y="363" width="11" height="10" fill="#000"/>
<rect x="1073" y="364" width="9" height="8" fill="#ff0000"/>
<rect x="1093" y="356" width="1" height="8" fill="#000"/>
<rect x="1088" y="363" width="11" height="1" fill="#000"/>
<rect x="1109" y="340" width="1" height="37" fill="#000"/>
<rect x="1104" y="351" width="11" height="13" fill="#000"/>
<rect x="1105" y="352" width="9" height="11" fill="#ff0000"/>
<rect x="1125" y="343" width="1" height="59" fill="#000"/>
<rect x="1120" y="352" width="11" height="47" fill="#000"/>
<rect x="1121" y="353" width="9" height="45" fill="#00ff00"/>
<rect x="1141" y="386" width="1" height="38" fill="#000"/>
<rect x="1136" y="398" width="11" height="22" fill="#000"/>
<rect x="1137" y="399" width="9" height="20" fill="#00ff00"/>
<rect x="1157" y="394" width="1" height="35" fill="#000"/>
<rect x="1152" y="410" width="11" height="10" fill="#000"/>
<rect x="1153" y="411" width="9" height="8" fill="#ff0000"/>
<rect x="1173" y="409" width="1" height="25" fill="#000"/>
<rect x="1168" y="410" width="11" height="24" fill="#000"/>
<rect x="1169" y="411" width="9" height="22" fill="#00ff00"/>
<rect x="1189" y="422" width="1" height="12" fill="#000"/>
<rect x="1184" y="423" width="11" height="10" fill="#000"/>
<rect x="1185" y="424" width="9" height="8" fill="#ff0000"/>
<rect x="1205" y="420" width="1" height="52" fill="#000"/>
<rect x="1200" y="423" width="11" height="21" fill="#000"/>
<rect x="1201" y="424" width="9" height="19" fill="#00ff00"/>
<rect x="1221" y="439" width="1" height="64" fill="#000"/>
<rect x="1216" y="444" width="11" height="54" fill="#000"/>
<rect x="1217" y="445" width="9" height="52" fill="#00ff00"/>
<rect x="1237" y="473" width="1" height="41" fill="#000"/>
<rect x="1232" y="486" width="11" height="12" fill="#000"/>
<rect x="1233" y="487" width="9" height="10" fill="#ff0000"/>
<rect x="1253" y="473" width="1" height="92" fill="#000"/>
<rect x="1248" y="486" width="11" height="64" fill="#000"/>
<rect x="1249" y="487" width="9" height="62" fill="#00ff00"/>
<rect x="1269" y="539" width="1" height="29" fill="#000"/>
<rect x="1264" y="549" width="11" height="3" fill="#000"/>
<rect x="1265" y="550" width="9" height="1" fill="#00ff00"/>
<rect x="1285" y="542" width="1" height="10" fill="#000"/>
<rect x="1280" y="542" width="11" height="10" fill="#000"/>
<rect x="1281" y="543" width="9" height="8" fill="#ff0000"/></g>
<rect x="4" y="25" width="1641" height="1" fill="#000"/><rect x="4" y="601" width="1641" height="1" fill="#000"/><rect x="4" y="25" width="1" height="577" fill="#000"/><rect x="1644" y="25" width="1" height="577" fill="#000"/>
<rect x="5" y="471" width="1639" height="2" fill="#ff0000"/>
<rect x="4" y="469" width="6" height="6" fill="#ff0000"/><rect x="6" y="471" width="2" height="2" fill="#fff"/>
<rect x="1638" y="469" width="6" height="6" fill="#ff0000"/><rect x="1640" y="471" width="2" height="2" fill="#fff"/>
<rect x="5" y="499" width="1639" height="2" fill="#ff0000"/>
<rect x="4" y="497" width="6" height="6" fill="#ff0000"/><rect x="6" y="499" width="2" height="2" fill="#fff"/>
<rect x="1638" y="497" width="6" height="6" fill="#ff0000"/><rect x="1640" y="499" width="2" height="2" fill="#fff"/>
<rect x="5" y="526" width="1639" height="2" fill="#ff8c00"/>
<rect x="4" y="524" width="6" height="6" fill="#ff8c00"/><rect x="6" y="526" width="2" height="2" fill="#fff"/>
<rect x="1638" y="524" width="6" height="6" fill="#ff8c00"/><rect x="1640" y="526" width="2" height="2" fill="#fff"/>
<rect x="5" y="572" width="1639" height="2" fill="#0000ff"/>
<rect x="4" y="570" width="6" height="6" fill="#0000ff"/><rect x="6" y="572" width="2" height="2" fill="#fff"/>
<rect x="1638" y="570" width="6" height="6" fill="#0000ff"/><rect x="1640" y="572" width="2" height="2" fill="#fff"/>
<rect x="5" y="596" width="1639" height="2" fill="#0000ff"/>
<rect x="4" y="594" width="6" height="6" fill="#0000ff"/><rect x="6" y="596" width="2" height="2" fill="#fff"/>
<rect x="1638" y="594" width="6" height="6" fill="#0000ff"/><rect x="1640" y="596" width="2" height="2" fill="#fff"/>
<rect x="5" y="542" width="1639" height="1" fill="#000"/>
<g shape-rendering="geometricPrecision"><line x1="1283" y1="408" x2="1358" y2="514" stroke="#4e9a2e" stroke-width="3"/><polygon points="1351,519 1365,509 1367,528" fill="#4e9a2e"/></g>
<polygon shape-rendering="geometricPrecision" points="1309.5,25 1319.5,25 1314.5,31" fill="#000"/>
<rect x="1645" y="37" width="2" height="1" fill="#000"/>
<g transform="translate(1650,41) scale(1,1)"><text class="t" x="0" y="0" textLength="33" lengthAdjust="spacingAndGlyphs">0.68410</text></g>
<rect x="1645" y="70" width="2" height="1" fill="#000"/>
<g transform="translate(1650,74) scale(1,1)"><text class="t" x="0" y="0" textLength="33" lengthAdjust="spacingAndGlyphs">0.68215</text></g>
<rect x="1645" y="103" width="2" height="1" fill="#000"/>
<g transform="translate(1650,107) scale(1,1)"><text class="t" x="0" y="0" textLength="33" lengthAdjust="spacingAndGlyphs">0.68025</text></g>
<rect x="1645" y="136" width="2" height="1" fill="#000"/>
<g transform="translate(1650,140) scale(1,1)"><text class="t" x="0" y="0" textLength="33" lengthAdjust="spacingAndGlyphs">0.67830</text></g>
<rect x="1645" y="169" width="2" height="1" fill="#000"/>
<g transform="translate(1650,173) scale(1,1)"><text class="t" x="0" y="0" textLength="33" lengthAdjust="spacingAndGlyphs">0.67640</text></g>
<rect x="1645" y="202" width="2" height="1" fill="#000"/>
<g transform="translate(1650,206) scale(1,1)"><text class="t" x="0" y="0" textLength="33" lengthAdjust="spacingAndGlyphs">0.67445</text></g>
<rect x="1645" y="235" width="2" height="1" fill="#000"/>
<g transform="translate(1650,239) scale(1,1)"><text class="t" x="0" y="0" textLength="33" lengthAdjust="spacingAndGlyphs">0.67255</text></g>
<rect x="1645" y="268" width="2" height="1" fill="#000"/>
<g transform="translate(1650,272) scale(1,1)"><text class="t" x="0" y="0" textLength="33" lengthAdjust="spacingAndGlyphs">0.67060</text></g>
<rect x="1645" y="301" width="2" height="1" fill="#000"/>
<g transform="translate(1650,305) scale(1,1)"><text class="t" x="0" y="0" textLength="33" lengthAdjust="spacingAndGlyphs">0.66870</text></g>
<rect x="1645" y="334" width="2" height="1" fill="#000"/>
<g transform="translate(1650,338) scale(1,1)"><text class="t" x="0" y="0" textLength="33" lengthAdjust="spacingAndGlyphs">0.66675</text></g>
<rect x="1645" y="367" width="2" height="1" fill="#000"/>
<g transform="translate(1650,371) scale(1,1)"><text class="t" x="0" y="0" textLength="33" lengthAdjust="spacingAndGlyphs">0.66480</text></g>
<rect x="1645" y="400" width="2" height="1" fill="#000"/>
<g transform="translate(1650,404) scale(1,1)"><text class="t" x="0" y="0" textLength="33" lengthAdjust="spacingAndGlyphs">0.66290</text></g>
<rect x="1645" y="433" width="2" height="1" fill="#000"/>
<g transform="translate(1650,437) scale(1,1)"><text class="t" x="0" y="0" textLength="33" lengthAdjust="spacingAndGlyphs">0.66095</text></g>
<rect x="1645" y="466" width="2" height="1" fill="#000"/>
<g transform="translate(1650,470) scale(1,1)"><text class="t" x="0" y="0" textLength="33" lengthAdjust="spacingAndGlyphs">0.65905</text></g>
<rect x="1645" y="499" width="2" height="1" fill="#000"/>
<g transform="translate(1650,503) scale(1,1)"><text class="t" x="0" y="0" textLength="33" lengthAdjust="spacingAndGlyphs">0.65710</text></g>
<rect x="1645" y="532" width="2" height="1" fill="#000"/>
<g transform="translate(1650,536) scale(1,1)"><text class="t" x="0" y="0" textLength="33" lengthAdjust="spacingAndGlyphs">0.65520</text></g>
<rect x="1645" y="565" width="2" height="1" fill="#000"/>
<g transform="translate(1650,569) scale(1,1)"><text class="t" x="0" y="0" textLength="33" lengthAdjust="spacingAndGlyphs">0.65325</text></g>
<rect x="1646" y="466" width="41" height="11" fill="#ff0000"/>
<g transform="translate(1650,475) scale(1,1)"><text class="t" x="0" y="0" style="fill:#fff" textLength="33" lengthAdjust="spacingAndGlyphs">0.65873</text></g>
<rect x="1646" y="494" width="41" height="11" fill="#ff0000"/>
<g transform="translate(1650,503) scale(1,1)"><text class="t" x="0" y="0" style="fill:#fff" textLength="33" lengthAdjust="spacingAndGlyphs">0.65705</text></g>
<rect x="1646" y="521" width="41" height="11" fill="#ff8c00"/>
<g transform="translate(1650,530) scale(1,1)"><text class="t" x="0" y="0" style="fill:#fff" textLength="33" lengthAdjust="spacingAndGlyphs">0.65548</text></g>
<rect x="1646" y="567" width="41" height="11" fill="#0000ff"/>
<g transform="translate(1650,576) scale(1,1)"><text class="t" x="0" y="0" style="fill:#fff" textLength="33" lengthAdjust="spacingAndGlyphs">0.65278</text></g>
<rect x="1646" y="591" width="41" height="11" fill="#0000ff"/>
<g transform="translate(1650,600) scale(1,1)"><text class="t" x="0" y="0" style="fill:#fff" textLength="33" lengthAdjust="spacingAndGlyphs">0.65143</text></g>
<rect x="1646" y="537" width="41" height="11" fill="#000"/>
<g transform="translate(1650,546) scale(1,1)"><text class="t" x="0" y="0" style="fill:#fff" textLength="33" lengthAdjust="spacingAndGlyphs">0.65459</text></g>
<polygon shape-rendering="geometricPrecision" points="8,32 15,32 11.5,36" fill="#000"/>
<g transform="translate(20.5,37) scale(1,1)"><text class="t" style="font-size:10px" x="0" y="0" textLength="58.5" lengthAdjust="spacingAndGlyphs">AUDUSD-,H4</text></g>
<g transform="translate(85,37) scale(1,1)"><text class="t" style="font-size:10px" x="0" y="0" textLength="141.5" lengthAdjust="spacingAndGlyphs">0.65411 0.65463 0.65411 0.65459</text></g>
<rect x="4" y="631" width="3" height="38" fill="#00ff00"/>
<rect x="20" y="626" width="3" height="43" fill="#00ff00"/>
<rect x="36" y="625" width="3" height="44" fill="#00ff00"/>
<rect x="52" y="621" width="3" height="48" fill="#00ff00"/>
<rect x="68" y="616" width="3" height="53" fill="#00ff00"/>
<rect x="84" y="615" width="3" height="54" fill="#00ff00"/>
<rect x="100" y="612" width="3" height="57" fill="#00ff00"/>
<rect x="116" y="613" width="3" height="56" fill="#00ff00"/>
<rect x="132" y="612" width="3" height="57" fill="#00ff00"/>
<rect x="148" y="611" width="3" height="58" fill="#00ff00"/>
<rect x="164" y="616" width="3" height="53" fill="#00ff00"/>
<rect x="180" y="621" width="3" height="48" fill="#00ff00"/>
<rect x="196" y="626" width="3" height="43" fill="#00ff00"/>
<rect x="212" y="629" width="3" height="40" fill="#00ff00"/>
<rect x="228" y="631" width="3" height="38" fill="#00ff00"/>
<rect x="244" y="633" width="3" height="36" fill="#00ff00"/>
<rect x="260" y="636" width="3" height="33" fill="#00ff00"/>
<rect x="276" y="640" width="3" height="29" fill="#00ff00"/>
<rect x="292" y="642" width="3" height="27" fill="#00ff00"/>
<rect x="308" y="642" width="3" height="27" fill="#00ff00"/>
<rect x="324" y="641" width="3" height="28" fill="#00ff00"/>
<rect x="340" y="642" width="3" height="27" fill="#00ff00"/>
<rect x="356" y="649" width="3" height="20" fill="#00ff00"/>
<rect x="372" y="654" width="3" height="15" fill="#00ff00"/>
<rect x="388" y="664" width="3" height="5" fill="#00ff00"/>
<rect x="404" y="669" width="3" height="3" fill="#00ff00"/>
<rect x="420" y="669" width="3" height="8" fill="#00ff00"/>
<rect x="436" y="669" width="3" height="14" fill="#00ff00"/>
<rect x="452" y="669" width="3" height="19" fill="#00ff00"/>
<rect x="468" y="669" width="3" height="23" fill="#00ff00"/>
<rect x="484" y="669" width="3" height="31" fill="#00ff00"/>
<rect x="500" y="669" width="3" height="38" fill="#00ff00"/>
<rect x="516" y="669" width="3" height="42" fill="#00ff00"/>
<rect x="532" y="669" width="3" height="43" fill="#00ff00"/>
<rect x="548" y="669" width="3" height="39" fill="#00ff00"/>
<rect x="564" y="669" width="3" height="35" fill="#00ff00"/>
<rect x="580" y="669" width="3" height="31" fill="#00ff00"/>
<rect x="596" y="669" width="3" height="27" fill="#00ff00"/>
<rect x="612" y="669" width="3" height="23" fill="#00ff00"/>
<rect x="628" y="669" width="3" height="21" fill="#00ff00"/>
<rect x="644" y="669" width="3" height="20" fill="#00ff00"/>
<rect x="660" y="669" width="3" height="21" fill="#00ff00"/>
<rect x="676" y="669" width="3" height="24" fill="#00ff00"/>
<rect x="692" y="669" width="3" height="25" fill="#00ff00"/>
<rect x="708" y="669" width="3" height="28" fill="#00ff00"/>
<rect x="724" y="669" width="3" height="28" fill="#00ff00"/>
<rect x="740" y="669" width="3" height="32" fill="#00ff00"/>
<rect x="756" y="669" width="3" height="31" fill="#00ff00"/>
<rect x="772" y="669" width="3" height="31" fill="#00ff00"/>
<rect x="788" y="669" width="3" height="28" fill="#00ff00"/>
<rect x="804" y="669" width="3" height="27" fill="#00ff00"/>
<rect x="820" y="669" width="3" height="27" fill="#00ff00"/>
<rect x="836" y="669" width="3" height="27" fill="#00ff00"/>
<rect x="852" y="669" width="3" height="28" fill="#00ff00"/>
<rect x="868" y="669" width="3" height="32" fill="#00ff00"/>
<rect x="884" y="669" width="3" height="33" fill="#00ff00"/>
<rect x="900" y="669" width="3" height="33" fill="#00ff00"/>
<rect x="916" y="669" width="3" height="32" fill="#00ff00"/>
<rect x="932" y="669" width="3" height="28" fill="#00ff00"/>
<rect x="948" y="669" width="3" height="24" fill="#00ff00"/>
<rect x="964" y="669" width="3" height="20" fill="#00ff00"/>
<rect x="980" y="669" width="3" height="18" fill="#00ff00"/>
<rect x="996" y="669" width="3" height="15" fill="#00ff00"/>
<rect x="1012" y="669" width="3" height="14" fill="#00ff00"/>
<rect x="1028" y="669" width="3" height="16" fill="#00ff00"/>
<rect x="1044" y="669" width="3" height="15" fill="#00ff00"/>
<rect x="1060" y="669" width="3" height="15" fill="#00ff00"/>
<rect x="1076" y="669" width="3" height="13" fill="#00ff00"/>
<rect x="1092" y="669" width="3" height="12" fill="#00ff00"/>
<rect x="1108" y="669" width="3" height="10" fill="#00ff00"/>
<rect x="1124" y="669" width="3" height="12" fill="#00ff00"/>
<rect x="1140" y="669" width="3" height="15" fill="#00ff00"/>
<rect x="1156" y="669" width="3" height="17" fill="#00ff00"/>
<rect x="1172" y="669" width="3" height="20" fill="#00ff00"/>
<rect x="1188" y="669" width="3" height="21" fill="#00ff00"/>
<rect x="1204" y="669" width="3" height="24" fill="#00ff00"/>
<rect x="1220" y="669" width="3" height="30" fill="#00ff00"/>
<rect x="1236" y="669" width="3" height="34" fill="#00ff00"/>
<rect x="1252" y="669" width="3" height="41" fill="#00ff00"/>
<rect x="1268" y="669" width="3" height="47" fill="#00ff00"/>
<rect x="1284" y="669" width="3" height="50" fill="#00ff00"/>
<polyline points="5,645 21,642.4 37,639.7 53,635.2 69,631.3 85,627.4 101,624 117,621.2 133,618 149,616 165,614.7 181,614.7 197,615.3 213,616.7 229,618.6 245,621 261,623.5 277,626 293,628.4 309,631.3 325,634.5 341,637.5 357,639.5 373,642.6 389,645 405,649.3 421,654.3 437,658.6 453,663.1 469,669 485,675.2 501,681.6 517,688.3 533,693.7 549,697.6 565,700.2 581,701.5 597,701.5 613,701.5 629,701 645,699.3 661,697.6 677,695.7 693,693.3 709,692.7 725,692.2 741,693.3 757,694.1 773,695.3 789,696.6 805,697 821,697 837,697 853,697 869,697.8 885,697.8 901,697.8 917,697.8 933,697.8 949,697.8 965,697.4 981,696.6 997,694.7 1013,692.7 1029,690.4 1045,688.5 1061,686.3 1077,685.5 1093,683 1109,682 1125,682 1141,682 1157,682 1173,682.8 1189,683.6 1205,684.4 1221,686.9 1237,688.5 1253,692.7 1269,696.6 1285,700" fill="none" stroke="#ff0000" stroke-width="2" stroke-linejoin="round"/>
<g transform="translate(9.5,616) scale(1,1)"><text class="t" x="0" y="0" textLength="153.5" lengthAdjust="spacingAndGlyphs">MACD(12,26,9) -0.002764 -0.001718</text></g>
<rect x="1645" y="604" width="1" height="1" fill="#000"/>
<g transform="translate(1648,614) scale(1,1)"><text class="t" x="0" y="0" textLength="38" lengthAdjust="spacingAndGlyphs">0.003656</text></g>
<rect x="1645" y="669" width="2" height="1" fill="#000"/>
<g transform="translate(1648,673) scale(1,1)"><text class="t" x="0" y="0" textLength="18" lengthAdjust="spacingAndGlyphs">0.00</text></g>
<rect x="1645" y="723" width="1" height="1" fill="#000"/>
<g transform="translate(1648,721) scale(1,1)"><text class="t" x="0" y="0" textLength="36" lengthAdjust="spacingAndGlyphs">-0.00307</text></g>
<line x1="6" y1="749.5" x2="1641" y2="749.5" stroke="#000" stroke-width="1" stroke-dasharray="3,3"/>
<g transform="translate(1646.2,753) scale(1,1)"><text class="t" x="0" y="0" textLength="10.6" lengthAdjust="spacingAndGlyphs">80</text></g>
<line x1="6" y1="781.5" x2="1641" y2="781.5" stroke="#000" stroke-width="1" stroke-dasharray="3,3"/>
<g transform="translate(1646.2,785) scale(1,1)"><text class="t" x="0" y="0" textLength="10.6" lengthAdjust="spacingAndGlyphs">50</text></g>
<line x1="6" y1="819.5" x2="1641" y2="819.5" stroke="#000" stroke-width="1" stroke-dasharray="3,3"/>
<g transform="translate(1646.2,823) scale(1,1)"><text class="t" x="0" y="0" textLength="10.6" lengthAdjust="spacingAndGlyphs">15</text></g>
<g transform="translate(1648.5,737) scale(1,1)"><text class="t" x="0" y="0" textLength="14.8" lengthAdjust="spacingAndGlyphs">100</text></g>
<g transform="translate(1647.8,833) scale(1,1)"><text class="t" x="0" y="0">0</text></g>
<rect x="1645" y="727" width="1" height="1" fill="#000"/><rect x="1645" y="836" width="1" height="1" fill="#000"/>
<polyline points="5,761.5 21,761.5 37,763.9 53,760.4 69,757.4 85,756.5 101,756.5 117,760.6 133,760.6 149,760.6 165,771.7 181,771.7 197,775 213,772.1 229,770.3 245,770.3 261,774.6 277,776.6 293,774.6 309,769.7 325,767.8 341,772.1 357,786.9 373,786.9 389,798 405,794.7 421,795 437,797.6 453,798.4 469,799 485,806.8 501,807.8 517,804.3 533,798 549,786.9 565,786.9 581,783.8 597,782 613,782 629,785.3 645,788 661,793.5 677,796.7 693,798 709,796 725,795.7 741,802.9 757,791.8 773,791.8 789,788.7 805,790.6 821,791.2 837,794.5 853,794.7 869,800 885,796.5 901,795.7 917,790.2 933,785 949,782 965,782 981,783.4 997,782 1013,785.3 1029,790.8 1045,787.3 1061,786.9 1077,784 1093,783.4 1109,782 1125,793.1 1141,795.7 1157,794.1 1173,796.7 1189,794.7 1205,798.6 1221,804.8 1237,802.9 1253,808.7 1269,808.7 1285,807.8" fill="none" stroke="#1e90ff" stroke-width="2" stroke-linejoin="round"/>
<g transform="translate(9.5,739) scale(1,1)"><text class="t" x="0" y="0" textLength="68" lengthAdjust="spacingAndGlyphs">RSI(14) 26.7566</text></g>
<rect x="5" y="837" width="1" height="3" fill="#000"/>
<g transform="translate(3.3,849) scale(1,1)"><text class="t" x="0" y="0" textLength="51.2" lengthAdjust="spacingAndGlyphs">5 May 2023</text></g>
<rect x="69" y="837" width="1" height="3" fill="#000"/>
<g transform="translate(67.3,849) scale(1,1)"><text class="t" x="0" y="0" textLength="55" lengthAdjust="spacingAndGlyphs">8 May 04:00</text></g>
<rect x="133" y="837" width="1" height="3" fill="#000"/>
<g transform="translate(131.3,849) scale(1,1)"><text class="t" x="0" y="0" textLength="55" lengthAdjust="spacingAndGlyphs">8 May 20:00</text></g>
<rect x="197" y="837" width="1" height="3" fill="#000"/>
<g transform="translate(195.3,849) scale(1,1)"><text class="t" x="0" y="0" textLength="55" lengthAdjust="spacingAndGlyphs">9 May 12:00</text></g>
<rect x="261" y="837" width="1" height="3" fill="#000"/>
<g transform="translate(259.3,849) scale(1,1)"><text class="t" x="0" y="0" textLength="60" lengthAdjust="spacingAndGlyphs">10 May 04:00</text></g>
<rect x="325" y="837" width="1" height="3" fill="#000"/>
<g transform="translate(323.3,849) scale(1,1)"><text class="t" x="0" y="0" textLength="60" lengthAdjust="spacingAndGlyphs">10 May 20:00</text></g>
<rect x="389" y="837" width="1" height="3" fill="#000"/>
<g transform="translate(387.3,849) scale(1,1)"><text class="t" x="0" y="0" textLength="60" lengthAdjust="spacingAndGlyphs">11 May 12:00</text></g>
<rect x="453" y="837" width="1" height="3" fill="#000"/>
<g transform="translate(451.3,849) scale(1,1)"><text class="t" x="0" y="0" textLength="60" lengthAdjust="spacingAndGlyphs">12 May 04:00</text></g>
<rect x="517" y="837" width="1" height="3" fill="#000"/>
<g transform="translate(515.3,849) scale(1,1)"><text class="t" x="0" y="0" textLength="60" lengthAdjust="spacingAndGlyphs">14 May 23:00</text></g>
<rect x="581" y="837" width="1" height="3" fill="#000"/>
<g transform="translate(579.3,849) scale(1,1)"><text class="t" x="0" y="0" textLength="60" lengthAdjust="spacingAndGlyphs">15 May 12:00</text></g>
<rect x="645" y="837" width="1" height="3" fill="#000"/>
<g transform="translate(643.3,849) scale(1,1)"><text class="t" x="0" y="0" textLength="60" lengthAdjust="spacingAndGlyphs">16 May 04:00</text></g>
<rect x="709" y="837" width="1" height="3" fill="#000"/>
<g transform="translate(707.3,849) scale(1,1)"><text class="t" x="0" y="0" textLength="60" lengthAdjust="spacingAndGlyphs">16 May 20:00</text></g>
<rect x="773" y="837" width="1" height="3" fill="#000"/>
<g transform="translate(771.3,849) scale(1,1)"><text class="t" x="0" y="0" textLength="60" lengthAdjust="spacingAndGlyphs">17 May 12:00</text></g>
<rect x="837" y="837" width="1" height="3" fill="#000"/>
<g transform="translate(835.3,849) scale(1,1)"><text class="t" x="0" y="0" textLength="60" lengthAdjust="spacingAndGlyphs">18 May 04:00</text></g>
<rect x="901" y="837" width="1" height="3" fill="#000"/>
<g transform="translate(899.3,849) scale(1,1)"><text class="t" x="0" y="0" textLength="60" lengthAdjust="spacingAndGlyphs">18 May 20:00</text></g>
<rect x="965" y="837" width="1" height="3" fill="#000"/>
<g transform="translate(963.3,849) scale(1,1)"><text class="t" x="0" y="0" textLength="60" lengthAdjust="spacingAndGlyphs">19 May 12:00</text></g>
<rect x="1029" y="837" width="1" height="3" fill="#000"/>
<g transform="translate(1027.3,849) scale(1,1)"><text class="t" x="0" y="0" textLength="60" lengthAdjust="spacingAndGlyphs">22 May 04:00</text></g>
<rect x="1093" y="837" width="1" height="3" fill="#000"/>
<g transform="translate(1091.3,849) scale(1,1)"><text class="t" x="0" y="0" textLength="60" lengthAdjust="spacingAndGlyphs">22 May 20:00</text></g>
<rect x="1157" y="837" width="1" height="3" fill="#000"/>
<g transform="translate(1155.3,849) scale(1,1)"><text class="t" x="0" y="0" textLength="60" lengthAdjust="spacingAndGlyphs">23 May 12:00</text></g>
<rect x="1221" y="837" width="1" height="3" fill="#000"/>
<g transform="translate(1219.3,849) scale(1,1)"><text class="t" x="0" y="0" textLength="60" lengthAdjust="spacingAndGlyphs">24 May 04:00</text></g>
<rect x="1285" y="837" width="1" height="3" fill="#000"/>
<g transform="translate(1283.3,849) scale(1,1)"><text class="t" x="0" y="0" textLength="60" lengthAdjust="spacingAndGlyphs">24 May 20:00</text></g>
</svg>
</body></html>
